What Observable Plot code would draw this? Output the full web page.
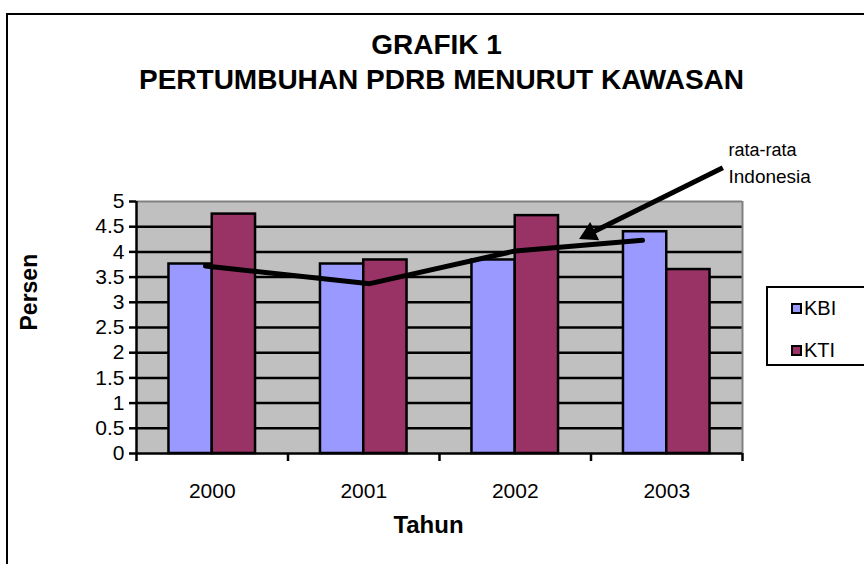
<!DOCTYPE html>
<html>
<head>
<meta charset="utf-8">
<script src="https://cdn.jsdelivr.net/npm/d3@7"></script>
<script src="https://cdn.jsdelivr.net/npm/@observablehq/plot@0.6"></script>
<style>
  html, body { margin: 0; padding: 0; background: #fff; overflow: hidden; }
  #wrap { position: relative; width: 864px; height: 564px; overflow: hidden; font-family: "Liberation Sans", Arial, sans-serif; }
  #outer { position: absolute; left: 6px; top: 13px; width: 900px; height: 600px; border-left: 2px solid #000; border-top: 2px solid #000; }
  #chart { position: absolute; left: 0; top: 0; }
  #legend { position: absolute; left: 766px; top: 286px; width: 120px; height: 76px; border: 2px solid #000; background: #fff; }
  .item { position: absolute; left: 23px; font-size: 20px; line-height: 20px; display: flex; align-items: center; }
  .sw { width: 7px; height: 7px; border: 2px solid #000; margin-right: 2px; }
</style>
</head>
<body>
<div id="wrap">
  <div id="outer"></div>
  <div id="chart"></div>
  <div id="legend"></div>
</div>
<script>
// ---- data ----
const years = ["2000", "2001", "2002", "2003"];
const seriesNames = ["KBI", "KTI"];
const kbi = [3.76, 3.76, 3.84, 4.40];
const kti = [4.75, 3.84, 4.72, 3.65];
const avgIndonesia = [3.72, 3.37, 4.02, 4.23];
const avgPos = [0.455, 1.54, 2.5, 3.34];     // position of the hand-drawn average line within the categories
const yTicks = [0, 0.5, 1, 1.5, 2, 2.5, 3, 3.5, 4, 4.5, 5];
const titleLines = ["GRAFIK 1", "PERTUMBUHAN PDRB MENURUT KAWASAN"];
const annotationLines = ["rata-rata", "Indonesia"];
const arrowFrom = {x: 3.87, y: 5.67};
const arrowTo = {x: 2.99, y: 4.36};
const colors = {KBI: "#9999FF", KTI: "#993366"};

// layout
const W = 864, H = 564, mL = 136, mR = 122, mT = 201, mB = 111;
const xDomain = [0, 4], yDomain = [0, 5];
const xPerPx = (xDomain[1] - xDomain[0]) / (W - mL - mR);
const yPerPx = (yDomain[1] - yDomain[0]) / (H - mT - mB);

// Excel gap width 150%: each bar = 1/3.5 of a category
const gap = 1.5, nSeries = 2, unit = 1 / (gap + nSeries);
const bars = [];
years.forEach((yr, i) => {
  [kbi, kti].forEach((vals, s) => {
    const x1 = i + unit * (gap / 2 + s);
    bars.push({year: yr, series: seriesNames[s], x1, x2: x1 + unit, value: vals[i]});
  });
});
const avgData = avgIndonesia.map((v, i) => ({x: avgPos[i], y: v}));
const gridVals = yTicks.filter(d => d > 0 && d < 5);
const catBounds = d3.range(years.length + 1);
const font = "Liberation Sans, Arial, sans-serif";

const chart = Plot.plot({
  width: W,
  height: H,
  marginLeft: mL,
  marginRight: mR,
  marginTop: mT,
  marginBottom: mB,
  style: {fontFamily: font, background: "transparent", color: "#000"},
  x: {domain: xDomain, axis: null},
  y: {domain: yDomain, axis: null},
  marks: [
    Plot.frame({fill: "#C0C0C0", stroke: "none"}),
    Plot.ruleY(gridVals, {stroke: "#000", strokeWidth: 2.5}),
    Plot.ruleY([5], {stroke: "#808080", strokeWidth: 2}),
    Plot.ruleX([4], {stroke: "#808080", strokeWidth: 2}),
    Plot.rect(bars, {x1: "x1", x2: "x2", y1: 0, y2: "value", fill: d => colors[d.series], stroke: "#000", strokeWidth: 2.5}),
    Plot.ruleX([0], {stroke: "#000", strokeWidth: 2.5}),
    Plot.ruleY([0], {stroke: "#000", strokeWidth: 2.5}),
    // tick marks
    Plot.ruleY(yTicks, {x1: -7 * xPerPx, x2: 0, stroke: "#000", strokeWidth: 2.5}),
    Plot.ruleX(catBounds, {y1: -8 * yPerPx, y2: 0, stroke: "#000", strokeWidth: 2.5}),
    Plot.axisY({ticks: yTicks, tickSize: 0, tickPadding: 12, fontSize: 21, tickFormat: d => String(d)}),
    Plot.text(years, {x: (d, i) => i + 0.5, y: 0, dy: 38, text: d => d, fontSize: 21}),
    Plot.line(avgData, {x: "x", y: "y", stroke: "#000", strokeWidth: 5}),
    Plot.link([0], {x1: () => arrowFrom.x, y1: () => arrowFrom.y, x2: () => arrowTo.x, y2: () => arrowTo.y, stroke: "#000", strokeWidth: 5}),
    Plot.dot([0], {x: () => arrowTo.x, y: () => arrowTo.y, symbol: "triangle", r: 7.5, fill: "#000", stroke: "none", rotate: 243.4}),
    Plot.text([annotationLines[0]], {frameAnchor: "top-right", lineAnchor: "middle", dx: -14, dy: -51, textAnchor: "start", text: d => d, fontSize: 18}),
    Plot.text([annotationLines[1]], {frameAnchor: "top-right", lineAnchor: "middle", dx: -14, dy: -25, textAnchor: "start", text: d => d, fontSize: 19}),
    Plot.text([titleLines[0]], {frameAnchor: "top", lineAnchor: "middle", dx: -3, dy: -156, text: d => d, fontSize: 28, fontWeight: "bold"}),
    Plot.text([titleLines[1]], {frameAnchor: "top", lineAnchor: "middle", dx: 2, dy: -121, text: d => d, fontSize: 28, fontWeight: "bold"}),
    Plot.text(["Persen"], {frameAnchor: "left", lineAnchor: "middle", dx: -107, dy: 3, rotate: -90, text: d => d, fontSize: 23, fontWeight: "bold"}),
    Plot.text(["Tahun"], {frameAnchor: "bottom", lineAnchor: "middle", dx: -11, dy: 72, text: d => d, fontSize: 24, fontWeight: "bold"})
  ]
});
document.getElementById("chart").appendChild(chart);

const legend = document.getElementById("legend");
seriesNames.forEach((name, i) => {
  const it = document.createElement("div");
  it.className = "item";
  it.style.top = (i === 0 ? 10 : 52) + "px";
  const sw = document.createElement("span");
  sw.className = "sw";
  sw.style.background = colors[name];
  const tx = document.createElement("span");
  tx.textContent = name;
  it.appendChild(sw);
  it.appendChild(tx);
  legend.appendChild(it);
});
</script>
</body>
</html>
